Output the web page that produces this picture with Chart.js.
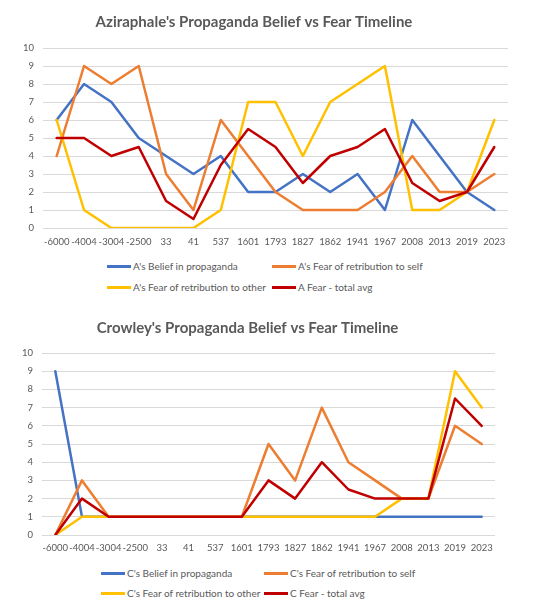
<!DOCTYPE html>
<html>
<head>
<meta charset="utf-8">
<script src="https://cdn.jsdelivr.net/npm/chart.js@4.4.0/dist/chart.umd.min.js"></script>
<style>
  html, body { margin: 0; padding: 0; background: #fff; }
  #wrap { position: relative; width: 540px; height: 609px; overflow: hidden; background: #fff; }
  canvas { position: absolute; left: 0; }
  .leg { position: absolute; font-family: Lato, 'Liberation Sans', Arial, sans-serif; font-size: 10px; color: #595959; white-space: nowrap; line-height: 14px; }
  .leg span.sw { display: inline-block; width: 24px; height: 3px; vertical-align: middle; margin-right: 2px; position: relative; top: -1px; }
</style>
</head>
<body>
<div id="wrap">
  <canvas id="cA" width="540" height="255" style="top:0px"></canvas>
  <canvas id="cC" width="540" height="255" style="top:305px"></canvas>
</div>
<script>
// ---- data ----
const categories = ['-6000','-4004','-3004','-2500','33','41','537','1601','1793','1827','1862','1941','1967','2008','2013','2019','2023'];
const yTicks = [0,1,2,3,4,5,6,7,8,9,10];

const aBelief     = [6, 8, 7, 5, 4, 3, 4, 2, 2, 3, 2, 3, 1, 6, 4, 2, 1];
const aFearSelf   = [4, 9, 8, 9, 3, 1, 6, 4, 2, 1, 1, 1, 2, 4, 2, 2, 3];
const aFearOther  = [6, 1, 0, 0, 0, 0, 1, 7, 7, 4, 7, 8, 9, 1, 1, 2, 6];
const aFearAvg    = [5, 5, 4, 4.5, 1.5, 0.5, 3.5, 5.5, 4.5, 2.5, 4, 4.5, 5.5, 2.5, 1.5, 2, 4.5];

const cBelief     = [9, 1, 1, 1, 1, 1, 1, 1, 1, 1, 1, 1, 1, 1, 1, 1, 1];
const cFearSelf   = [0, 3, 1, 1, 1, 1, 1, 1, 5, 3, 7, 4, 3, 2, 2, 6, 5];
const cFearOther  = [0, 1, 1, 1, 1, 1, 1, 1, 1, 1, 1, 1, 1, 2, 2, 9, 7];
const cFearAvg    = [0, 2, 1, 1, 1, 1, 1, 1, 3, 2, 4, 2.5, 2, 2, 2, 7.5, 6];

const aLabels = ["A's Belief in propaganda", "A's Fear of retribution to self", "A's Fear of retribution to other", "A Fear - total avg"];
const cLabels = ["C's Belief in propaganda", "C's Fear of retribution to self", "C's Fear of retribution to other", "C Fear - total avg"];
const titleA = "Aziraphale's Propaganda Belief vs Fear Timeline";
const titleC = "Crowley's Propaganda Belief vs Fear Timeline";

// ---- styles ----
const colors = ['#4472C4', '#ED7D31', '#FFC000', '#C00000'];
const textColor = '#595959';
const gridColor = '#D9D9D9';
const tickFont = { family: "Lato, 'Liberation Sans', Arial, sans-serif", size: 9.5 };

function makeChart(id, title, labels, series, geom) {
  const datasets = series.map((d, i) => ({
    label: labels[i],
    data: d,
    borderColor: colors[i],
    backgroundColor: colors[i],
    borderWidth: 2.5,
    pointRadius: 0,
    tension: 0,
    order: 4 - i,
    borderCapStyle: 'round',
    borderJoinStyle: 'round'
  }));
  return new Chart(document.getElementById(id), {
    type: 'line',
    data: { labels: categories, datasets },
    options: {
      responsive: false,
      animation: false,
      devicePixelRatio: 1,
      layout: { padding: { left: 0, right: geom.right, top: 0, bottom: 0 } },
      plugins: {
        legend: { display: false },
        tooltip: { enabled: false },
        title: {
          display: true,
          text: title,
          color: textColor,
          font: { family: "Lato, 'Liberation Sans', Arial, sans-serif", size: 15, weight: 'bold' },
          padding: { top: geom.titleTop, bottom: geom.titleBottom }
        }
      },
      scales: {
        x: {
          offset: true,
          grid: { display: false, drawTicks: false },
          border: { display: false },
          ticks: { color: textColor, font: tickFont, autoSkip: false, maxRotation: 0, minRotation: 0, padding: geom.xPad },
          afterFit: (s) => { s.height = geom.xH; }
        },
        y: {
          min: 0, max: 10,
          afterBuildTicks: (s) => { s.ticks = yTicks.map(v => ({ value: v })); },
          grid: { color: gridColor, lineWidth: 1, drawTicks: false },
          border: { display: false },
          ticks: { color: textColor, font: tickFont, padding: 9 },
          afterFit: (s) => { s.width = geom.yW; }
        }
      }
    }
  });
}

makeChart('cA', titleA, aLabels, [aBelief, aFearSelf, aFearOther, aFearAvg],
  { right: 32, titleTop: 13, titleBottom: 17, xPad: 8, xH: 27, yW: 43 });
makeChart('cC', titleC, cLabels, [cBelief, cFearSelf, cFearOther, cFearAvg],
  { right: 45, titleTop: 14, titleBottom: 16, xPad: 7, xH: 25, yW: 42 });

// ---- legends (HTML text) ----
function makeLegend(labels, rows, cols) {
  const wrap = document.getElementById('wrap');
  labels.forEach((t, i) => {
    const el = document.createElement('div');
    el.className = 'leg';
    el.style.left = cols[i % 2] + 'px';
    el.style.top = (rows[Math.floor(i / 2)] - 7) + 'px';
    const sw = document.createElement('span');
    sw.className = 'sw';
    sw.style.background = colors[i];
    el.appendChild(sw);
    el.appendChild(document.createTextNode(t));
    wrap.appendChild(el);
  });
}
makeLegend(aLabels, [266, 287], [107, 272]);
makeLegend(cLabels, [573, 593], [101, 264]);
</script>
</body>
</html>
